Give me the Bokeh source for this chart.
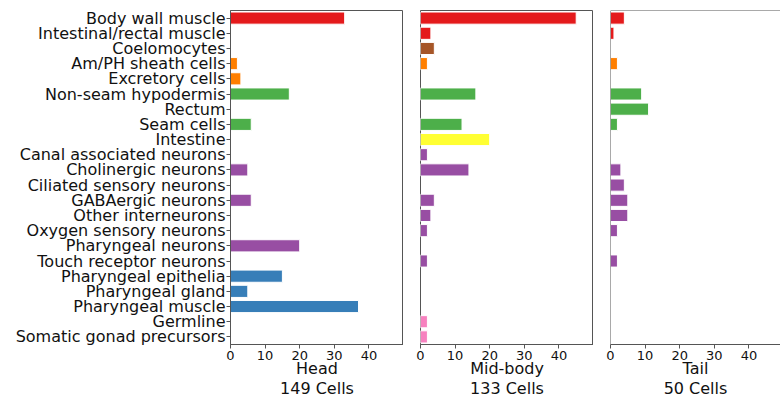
from bokeh.plotting import figure
from bokeh.layouts import row
from bokeh.models import ColumnDataSource, FactorRange, Range1d, FixedTicker, Span
from bokeh.embed import file_html
from bokeh.resources import INLINE

categories = [
    "Body wall muscle", "Intestinal/rectal muscle", "Coelomocytes",
    "Am/PH sheath cells", "Excretory cells", "Non-seam hypodermis", "Rectum",
    "Seam cells", "Intestine", "Canal associated neurons",
    "Cholinergic neurons", "Ciliated sensory neurons", "GABAergic neurons",
    "Other interneurons", "Oxygen sensory neurons", "Pharyngeal neurons",
    "Touch receptor neurons", "Pharyngeal epithelia", "Pharyngeal gland",
    "Pharyngeal muscle", "Germline", "Somatic gonad precursors",
]
colors = [
    "#e41a1c", "#e41a1c", "#a65628",
    "#ff7f00", "#ff7f00", "#4daf4a", "#4daf4a",
    "#4daf4a", "#ffff33", "#984ea3",
    "#984ea3", "#984ea3", "#984ea3",
    "#984ea3", "#984ea3", "#984ea3",
    "#984ea3", "#377eb8", "#377eb8",
    "#377eb8", "#f781bf", "#f781bf",
]
head = [33, 0, 0, 2, 3, 17, 0, 6, 0, 0, 5, 0, 6, 0, 0, 20, 0, 15, 5, 37, 0, 0]
mid = [45, 3, 4, 2, 0, 16, 0, 12, 20, 2, 14, 0, 4, 3, 2, 0, 2, 0, 0, 0, 2, 2]
tail = [4, 1, 0, 2, 0, 9, 11, 2, 0, 0, 3, 4, 5, 5, 2, 0, 2, 0, 0, 0, 0, 0]
regions = ["Head", "Mid-body", "Tail"]
cell_totals = [149, 133, 50]
x_ticks = [0, 10, 20, 30, 40]

FONT = "DejaVu Sans"
LINE = "#555555"
H = 401
TOP = 10
BOTTOM = 55
N = len(categories)

y_range = FactorRange(factors=list(reversed(categories)), range_padding=0)


def make_panel(values, region, total, width, left, x_end, show_labels, right_line):
    keep = [i for i, v in enumerate(values) if v > 0]
    src = ColumnDataSource(dict(cat=[categories[i] for i in keep],
                                val=[values[i] for i in keep],
                                color=[colors[i] for i in keep]))
    p = figure(width=width, height=H, y_range=y_range,
               x_range=Range1d(0, x_end), output_backend="svg",
               toolbar_location=None, min_border_left=left,
               min_border_right=0, min_border_top=TOP,
               min_border_bottom=BOTTOM)
    p.hbar(y="cat", right="val", left=0, height=0.8, fill_color="color",
           line_color="white", line_width=1, source=src)
    p.grid.visible = False
    p.background_fill_color = "white"
    p.border_fill_color = "white"
    if right_line:
        p.outline_line_color = LINE
        p.outline_line_width = 1
    else:
        p.outline_line_color = None
        p.add_layout(Span(location=N, dimension="width",
                          line_color=LINE, line_width=1))
        p.add_layout(Span(location=0, dimension="height",
                          line_color=LINE, line_width=1))

    xa = p.xaxis[0]
    xa.ticker = FixedTicker(ticks=x_ticks)
    xa.minor_tick_line_color = None
    xa.major_tick_in = 0
    xa.major_tick_out = 4
    xa.major_tick_line_color = LINE
    xa.axis_line_color = LINE
    xa.major_label_text_font = FONT
    xa.major_label_text_font_size = "13px"
    xa.major_label_text_color = "#111111"
    xa.major_label_standoff = 2
    xa.axis_label = f"{region}\n{total} Cells"
    xa.axis_label_text_font = FONT
    xa.axis_label_text_font_size = "16px"
    xa.axis_label_text_font_style = "normal"
    xa.axis_label_text_color = "#111111"
    xa.axis_label_text_line_height = 1.1
    xa.axis_label_standoff = -4

    ya = p.yaxis[0]
    if show_labels:
        ya.axis_line_color = LINE
        ya.minor_tick_line_color = None
        ya.major_tick_in = 0
        ya.major_tick_out = 4
        ya.major_tick_line_color = LINE
        ya.major_label_text_font = FONT
        ya.major_label_text_font_size = "16px"
        ya.major_label_text_color = "#111111"
        ya.major_label_standoff = 1
    else:
        ya.visible = False
    return p


p1 = make_panel(head, regions[0], cell_totals[0], 403, 230, 50, True, True)
p2 = make_panel(mid, regions[1], cell_totals[1], 190, 17, 50, False, True)
p3 = make_panel(tail, regions[2], cell_totals[2], 187, 17, 49.1, False, False)

layout = row(p1, p2, p3, spacing=0)
open("out.html", "w").write(file_html(layout, INLINE))
